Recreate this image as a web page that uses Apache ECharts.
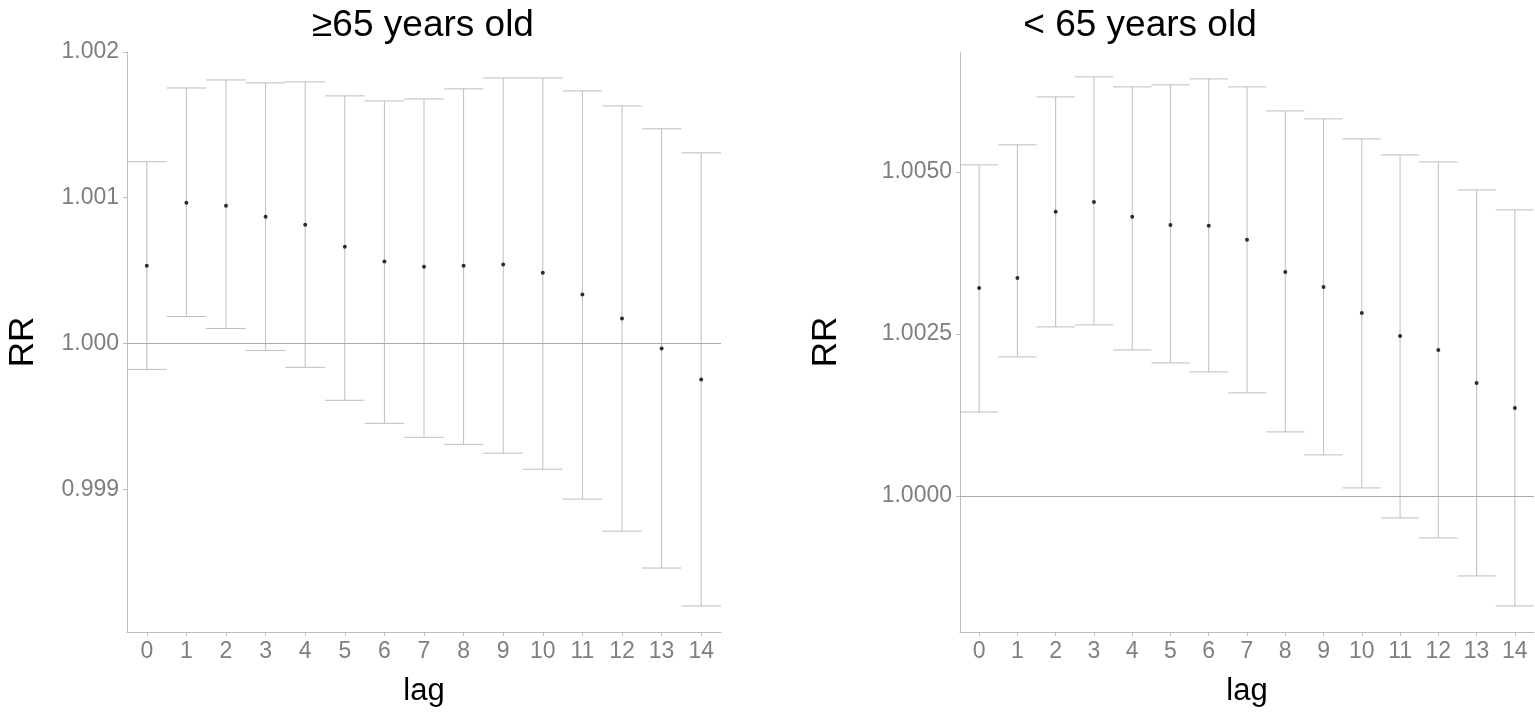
<!DOCTYPE html>
<html>
<head>
<meta charset="utf-8">
<script src="https://cdn.jsdelivr.net/npm/echarts@6/dist/echarts.min.js"></script>
<style>html,body{margin:0;padding:0;background:#fff}#chart{width:1535px;height:714px}</style>
</head>
<body>
<div id="chart"></div>
<script>
var lags = ['0','1','2','3','4','5','6','7','8','9','10','11','12','13','14'];

// >=65 years old
var oldRR = [1.000534,1.000966,1.000945,1.00087,1.000815,1.000664,1.000562,1.000527,1.000534,1.000541,1.000486,1.000336,1.000171,0.999966,0.999753];
var oldLow = [0.999822,1.000185,1.000103,0.999952,0.999836,0.99961,0.999452,0.999356,0.999308,0.999247,0.999137,0.998932,0.998712,0.998459,0.998199];
var oldHigh = [1.001247,1.001753,1.001808,1.001788,1.001795,1.001699,1.001664,1.001678,1.001747,1.001822,1.001822,1.001733,1.00163,1.001473,1.001308];
var oldTicks = [0.999, 1.000, 1.001, 1.002];

// <65 years old
var youngRR = [1.00321,1.003364,1.004383,1.004537,1.004306,1.004182,1.004167,1.003951,1.003457,1.003225,1.002824,1.002469,1.002253,1.001744,1.001358];
var youngLow = [1.001296,1.002145,1.002608,1.002639,1.002253,1.002052,1.001914,1.00159,1.000988,1.000633,1.000123,0.99966,0.999352,0.998765,0.998302];
var youngHigh = [1.005108,1.005417,1.006157,1.006466,1.006312,1.006343,1.006435,1.006312,1.005941,1.005818,1.005509,1.005262,1.005154,1.004722,1.004414];
var youngTicks = [1.0000, 1.0025, 1.0050];

var chart = echarts.init(document.getElementById('chart'));
var grey = '#bdbdbd';
var font = 'Liberation Sans, Arial, sans-serif';

function bars(low, high) {
    return low.map(function (v, i) { return [i, v, high[i]]; });
}

function renderBar(params, api) {
    var lo = api.coord([api.value(0), api.value(1)]);
    var hi = api.coord([api.value(0), api.value(2)]);
    var half = api.size([1, 0])[0] / 2;
    var st = { stroke: grey, lineWidth: 1 };
    return {
        type: 'group',
        children: [
            { type: 'line', shape: { x1: lo[0], y1: lo[1], x2: hi[0], y2: hi[1] }, style: st },
            { type: 'line', shape: { x1: lo[0] - half, y1: lo[1], x2: lo[0] + half, y2: lo[1] }, style: st },
            { type: 'line', shape: { x1: hi[0] - half, y1: hi[1], x2: hi[0] + half, y2: hi[1] }, style: st }
        ]
    };
}

function xAx(idx) {
    return {
        gridIndex: idx, type: 'category', data: lags,
        name: 'lag', nameLocation: 'middle', nameGap: 44,
        nameTextStyle: { fontSize: 31, color: '#000', fontFamily: font },
        axisLine: { lineStyle: { color: grey } },
        axisTick: { show: true, alignWithLabel: true, length: 4, lineStyle: { color: grey } },
        axisLabel: { fontSize: 23, color: '#7f7f7f', fontFamily: font, margin: 8 },
        splitLine: { show: false }
    };
}

function yAx(idx, min, max, ticks, dec) {
    return {
        gridIndex: idx, type: 'value', min: min, max: max,
        name: 'RR', nameLocation: 'middle', nameGap: idx === 0 ? 86 : 116,
        nameTextStyle: { fontSize: 35, color: '#000', fontFamily: font },
        axisLine: { show: true, lineStyle: { color: grey } },
        axisTick: { show: true, length: 4, customValues: ticks, lineStyle: { color: grey } },
        axisLabel: {
            fontSize: 23, color: '#7f7f7f', fontFamily: font, customValues: ticks,
            formatter: function (v) { return v.toFixed(dec); }
        },
        splitLine: { show: false }
    };
}

function refLine() {
    return {
        silent: true, symbol: 'none', label: { show: false },
        lineStyle: { color: '#aaa', type: 'solid', width: 1 },
        data: [{ yAxis: 1 }]
    };
}

var option = {
    animation: false,
    title: [
        { text: '≥65 years old', left: 418, top: 2, textAlign: 'center',
          textStyle: { fontSize: 37, fontWeight: 'normal', color: '#000', fontFamily: font } },
        { text: '< 65 years old', left: 1135, top: 2, textAlign: 'center',
          textStyle: { fontSize: 37, fontWeight: 'normal', color: '#000', fontFamily: font } }
    ],
    grid: [
        { left: 127, width: 594, top: 52, bottom: 82 },
        { left: 960, width: 574, top: 52, bottom: 82 }
    ],
    xAxis: [xAx(0), xAx(1)],
    yAxis: [yAx(0, 0.99802, 1.002, oldTicks, 3), yAx(1, 0.9979, 1.00685, youngTicks, 4)],
    series: [
        { type: 'custom', xAxisIndex: 0, yAxisIndex: 0, renderItem: renderBar,
          encode: { x: 0, y: [1, 2] }, data: bars(oldLow, oldHigh), markLine: refLine() },
        { type: 'scatter', xAxisIndex: 0, yAxisIndex: 0, data: oldRR, symbolSize: 4,
          itemStyle: { color: '#000' } },
        { type: 'custom', xAxisIndex: 1, yAxisIndex: 1, renderItem: renderBar,
          encode: { x: 0, y: [1, 2] }, data: bars(youngLow, youngHigh), markLine: refLine() },
        { type: 'scatter', xAxisIndex: 1, yAxisIndex: 1, data: youngRR, symbolSize: 4,
          itemStyle: { color: '#000' } }
    ]
};

chart.setOption(option);
window.addEventListener('resize', chart.resize);
</script>
</body>
</html>
